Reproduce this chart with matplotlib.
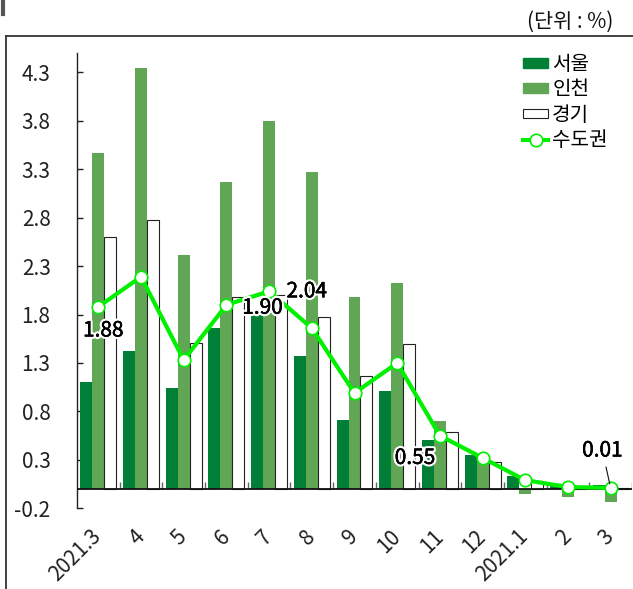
import matplotlib
matplotlib.use("Agg")
import matplotlib.pyplot as plt
import matplotlib.patheffects as pe
from matplotlib.lines import Line2D
from matplotlib.patches import Patch
import numpy as np

plt.rcParams['font.family'] = ['Noto Sans CJK KR', 'DejaVu Sans']

categories = ['2021.3', '4', '5', '6', '7', '8', '9', '10', '11', '12', '2021.1', '2', '3']
seoul = [1.10, 1.42, 1.04, 1.66, 1.81, 1.37, 0.71, 1.01, 0.51, 0.35, 0.13, 0.04, 0.04]
incheon = [3.47, 4.34, 2.41, 3.17, 3.80, 3.27, 1.98, 2.13, 0.70, 0.35, -0.05, -0.08, -0.13]
gyeonggi = [2.60, 2.78, 1.51, 1.98, 2.00, 1.77, 1.17, 1.50, 0.59, 0.28, 0.08, 0.03, 0.01]
capital = [1.88, 2.19, 1.33, 1.90, 2.04, 1.66, 0.99, 1.30, 0.55, 0.32, 0.09, 0.02, 0.01]
yticks = [-0.2, 0.3, 0.8, 1.3, 1.8, 2.3, 2.8, 3.3, 3.8, 4.3]
series_names = ['서울', '인천', '경기', '수도권']
unit_label = '(단위 : %)'

c_seoul = '#007F37'
c_incheon = '#61A655'
c_line = '#00F000'

fig = plt.figure(figsize=(6.33, 5.89), dpi=100)
ax = fig.add_axes([77/633, 1-508.3/589, (632-77)/633, (508.3-53)/589])

x = np.arange(len(categories))
w = 0.28
ax.bar(x - w, seoul, w, color=c_seoul, zorder=2)
ax.bar(x, incheon, w, color=c_incheon, zorder=2)
ax.bar(x + w, gyeonggi, w, color='white', edgecolor='#222222', linewidth=0.8, zorder=2)
ax.plot(x, capital, color=c_line, lw=3.0, marker='o', ms=9, mfc='white',
        mec=c_line, mew=1.2, zorder=5)

ax.set_xlim(-0.5, len(categories) - 0.5)
ax.set_ylim(-0.2, 4.5)

# zero axis line and boundary ticks
ax.axhline(0, color='#111111', lw=1.3, zorder=3)
bounds = np.arange(len(categories)) + 0.5
ax.vlines(bounds, 0, 0.07, color='#666666', lw=1.0, zorder=1.5)

for s in ['top', 'right', 'bottom']:
    ax.spines[s].set_visible(False)
ax.spines['left'].set_color('#222222')
ax.spines['left'].set_linewidth(1.0)

ax.set_yticks(yticks)
ax.set_yticklabels([f'{v:.1f}' for v in yticks])
ax.tick_params(axis='y', direction='in', length=4, width=1.0, color='#222222',
               pad=19, labelsize=15, labelcolor='#222222')
ax.set_xticks(x)
ax.set_xticklabels(categories, rotation=45, ha='right', va='center',
                   rotation_mode='anchor', fontsize=15, color='#222222')
ax.tick_params(axis='x', length=0, pad=18)

halo = [pe.withStroke(linewidth=3.5, foreground='white'),
        pe.withStroke(linewidth=0.3, foreground='#000000')]
lab_kw = dict(textcoords='offset points', ha='center', va='center', fontsize=15,
              color='#000000', fontweight='normal', path_effects=halo, zorder=6)
ax.annotate('1.88', (x[0], capital[0]), xytext=(3.6, -17), **lab_kw)
ax.annotate('1.90', (x[3], capital[3]), xytext=(26, -2), **lab_kw)
ax.annotate('2.04', (x[4], capital[4]), xytext=(27, 0), **lab_kw)
ax.annotate('0.55', (x[8], capital[8]), xytext=(-18, -16), **lab_kw)
ax.annotate('0.01', (x[12], capital[12]), xytext=(-6, 27),
            arrowprops=dict(arrowstyle='-', color='#111111', lw=0.8,
                            shrinkA=2, shrinkB=3), **lab_kw)

handles = [Patch(facecolor=c_seoul, edgecolor=c_seoul),
           Patch(facecolor=c_incheon, edgecolor=c_incheon),
           Patch(facecolor='white', edgecolor='#222222', linewidth=0.8),
           Line2D([], [], color=c_line, lw=3.0, marker='o', ms=9, mfc='white',
                  mec=c_line, mew=1.2)]
fig.legend(handles, series_names, loc='upper left',
           bbox_to_anchor=(523/633, 1-54/589), frameon=False, fontsize=14.5,
           handlelength=1.25, handleheight=0.35, handletextpad=0.2,
           labelspacing=0.22, borderaxespad=0, borderpad=0)

fig.text(613/633, 1-22/589, unit_label, ha='right', va='center', fontsize=15,
         color='#111111')

# outer frame lines
fig.add_artist(Line2D([6/633, 6/633], [0, 1-36/589], transform=fig.transFigure,
                      color='#333333', lw=1.3))
fig.add_artist(Line2D([6/633, 1], [1-36/589, 1-36/589], transform=fig.transFigure,
                      color='#333333', lw=1.3))
fig.add_artist(Line2D([3/633, 3/633], [1, 1-14/589], transform=fig.transFigure,
                      color='#555555', lw=3))

fig.savefig('out.png', dpi=100)
